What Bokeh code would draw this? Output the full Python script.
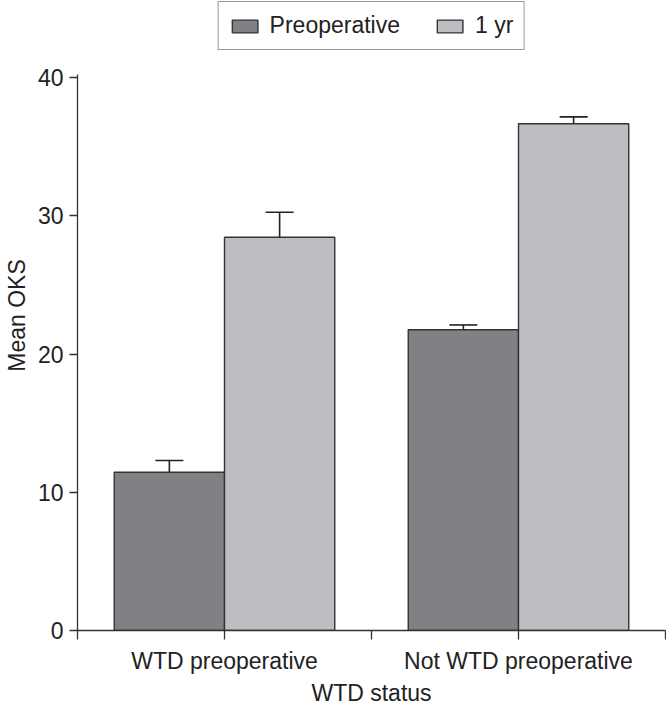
from bokeh.plotting import figure
from bokeh.models import (ColumnDataSource, Whisker, TeeHead, Legend, LegendItem,
                          FixedTicker, Range1d)
from bokeh.transform import dodge
from bokeh.embed import file_html
from bokeh.resources import INLINE

# ---- data ----
groups = ["WTD preoperative", "Not WTD preoperative"]
series_labels = ["Preoperative", "1 yr"]
preop_mean = [11.45, 21.75]
preop_err = [0.85, 0.35]
yr1_mean = [28.45, 36.65]
yr1_err = [1.8, 0.5]
y_ticks = [0, 10, 20, 30, 40]
x_title = "WTD status"
y_title = "Mean OKS"

FONT = "Liberation Sans"
FS = "23px"
PRE_COLOR = "#818185"
YR_COLOR = "#bdbec2"
EDGE = "#333333"
TXT = "#222222"

# layout: the data area spans 553 px for 0..40; extra headroom above holds the legend
AXIS_PX = 553
TOP_PX = 77
y_max = y_ticks[-1]
y_top = y_max * (AXIS_PX + TOP_PX) / AXIS_PX

xpos = [2 * i + 1 for i in range(len(groups))]
src = ColumnDataSource(dict(
    x=xpos,
    pre=preop_mean,
    yr=yr1_mean,
    pre_lo=[m - e for m, e in zip(preop_mean, preop_err)],
    pre_hi=[m + e for m, e in zip(preop_mean, preop_err)],
    yr_lo=[m - e for m, e in zip(yr1_mean, yr1_err)],
    yr_hi=[m + e for m, e in zip(yr1_mean, yr1_err)],
))

p = figure(frame_width=588, frame_height=AXIS_PX + TOP_PX,
           x_range=Range1d(0, 2 * len(groups)), y_range=Range1d(0, y_top),
           output_backend="svg", toolbar_location=None,
           min_border_left=77, min_border_right=1, min_border_top=0,
           min_border_bottom=77)
p.outline_line_color = None
p.xgrid.visible = False
p.ygrid.visible = False
p.background_fill_color = "white"
p.border_fill_color = "white"

r_pre = p.vbar(x=dodge("x", -0.375, range=p.x_range), top="pre", width=0.75,
               bottom=0, source=src, fill_color=PRE_COLOR, line_color=EDGE,
               line_width=1.4)
r_yr = p.vbar(x=dodge("x", 0.375, range=p.x_range), top="yr", width=0.75,
              bottom=0, source=src, fill_color=YR_COLOR, line_color=EDGE,
              line_width=1.4)

for base_off, lo, hi in [(-0.375, "pre_lo", "pre_hi"), (0.375, "yr_lo", "yr_hi")]:
    w = Whisker(base=dodge("x", base_off, range=p.x_range), lower=lo, upper=hi,
                source=src, line_color=TXT, line_width=1.6,
                upper_head=TeeHead(size=28, line_color=TXT, line_width=1.6),
                lower_head=TeeHead(size=28, line_color=TXT, line_width=1.6))
    p.add_layout(w)

# axes
p.xaxis.ticker = FixedTicker(ticks=list(range(0, 2 * len(groups) + 1)))
overrides = {i: "" for i in range(0, 2 * len(groups) + 1)}
for xp, g in zip(xpos, groups):
    overrides[xp] = g
p.xaxis.major_label_overrides = overrides
p.yaxis.ticker = FixedTicker(ticks=y_ticks)
p.yaxis.bounds = (0, y_max + 0.2)
p.xaxis.axis_label = x_title
p.yaxis.axis_label = y_title

for ax in (p.xaxis, p.yaxis):
    ax.axis_line_color = EDGE
    ax.axis_line_width = 1.3
    ax.major_tick_line_color = EDGE
    ax.major_tick_line_width = 1.3
    ax.major_tick_in = 0
    ax.minor_tick_line_color = None
    ax.major_label_text_font = FONT
    ax.major_label_text_font_size = FS
    ax.major_label_text_color = TXT
    ax.axis_label_text_font = FONT
    ax.axis_label_text_font_size = FS
    ax.axis_label_text_font_style = "normal"
    ax.axis_label_text_color = TXT

p.xaxis.major_tick_out = 9
p.yaxis.major_tick_out = 8
p.xaxis.major_label_standoff = 8
p.xaxis.axis_label_standoff = 3
p.yaxis.major_label_standoff = 6
p.yaxis.axis_label_standoff = 5

legend = Legend(items=[LegendItem(label=series_labels[0], renderers=[r_pre]),
                       LegendItem(label=series_labels[1], renderers=[r_yr])],
                orientation="horizontal", location="top_center")
legend.label_text_font = FONT
legend.label_text_font_size = FS
legend.label_text_color = TXT
legend.glyph_width = 32
legend.glyph_height = 16
legend.label_standoff = 9
legend.spacing = 34
legend.padding = 10
legend.margin = 1
legend.border_line_color = EDGE
legend.border_line_width = 1.5
legend.background_fill_color = "white"
p.add_layout(legend, "center")

open("out.html", "w").write(file_html(p, INLINE))
